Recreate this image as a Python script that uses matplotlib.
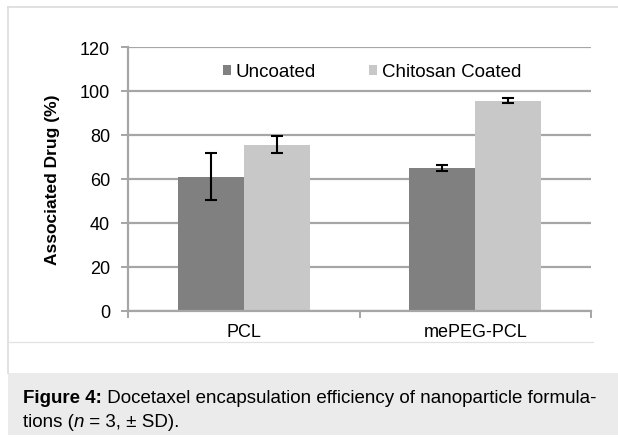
import matplotlib
matplotlib.use("Agg")
import matplotlib.pyplot as plt
from matplotlib.patches import Patch, Rectangle
from matplotlib.lines import Line2D
import numpy as np

plt.rcParams['font.family'] = ['Liberation Sans', 'DejaVu Sans']

categories = ["PCL", "mePEG-PCL"]
series_names = ["Uncoated", "Chitosan Coated"]
uncoated = [61.0, 65.0]
uncoated_sd = [10.6, 1.5]
coated = [75.6, 95.6]
coated_sd = [4.0, 1.0]
yticks = [0, 20, 40, 60, 80, 100, 120]
ylabel = "Associated Drug (%)"
colors = ["#808080", "#c8c8c8"]

W, H = 618, 439
fig = plt.figure(figsize=(W / 100, H / 100), dpi=100)

def fx(px):
    return px / W

def fy(py):
    return 1 - py / H

# frame lines and caption box
frame_col = "#dcdcdc"
fig.add_artist(Line2D([fx(8), fx(8)], [fy(8), fy(374)], color=frame_col, lw=1.2))
fig.add_artist(Line2D([fx(8), 1], [fy(8), fy(8)], color=frame_col, lw=1.2))
fig.add_artist(Line2D([fx(8), fx(593)], [fy(343), fy(343)], color="#e2e2e2", lw=0.9))
fig.add_artist(Rectangle((fx(8), fy(436)), 1 - fx(8), fy(374) - fy(436),
                         facecolor="#ebebeb", edgecolor="none"))

ax = fig.add_axes([fx(128), fy(312), fx(591) - fx(128), fy(48) - fy(312)])
x = np.arange(len(categories))
bw = 0.285
grid_col = "#a6a6a6"

ax.set_axisbelow(True)
ax.yaxis.grid(True, color=grid_col, lw=1.6)
ax.bar(x - bw / 2, uncoated, bw, color=colors[0], edgecolor="none",
       yerr=uncoated_sd, error_kw=dict(ecolor="black", elinewidth=1.5, capsize=4.3, capthick=1.5))
ax.bar(x + bw / 2, coated, bw, color=colors[1], edgecolor="none",
       yerr=coated_sd, error_kw=dict(ecolor="black", elinewidth=1.5, capsize=4.3, capthick=1.5))

ax.set_xlim(-0.5, len(categories) - 0.5)
ax.set_ylim(0, 120)
ax.set_yticks(yticks)
ax.set_yticklabels([str(v) for v in yticks], fontsize=13)
ax.set_xticks(x)
ax.set_xticklabels(categories, fontsize=13)
ax.set_xticks([-0.5, 0.5, 1.5], minor=True)
ax.tick_params(axis='x', which='major', length=0, pad=9)
ax.tick_params(axis='x', which='minor', length=5, direction='out', color=grid_col, width=1.4)
ax.tick_params(axis='y', length=5, direction='out', color=grid_col, width=1.4, pad=8)

for s in ["top", "right"]:
    ax.spines[s].set_visible(False)
for s in ["left", "bottom"]:
    ax.spines[s].set_color(grid_col)
    ax.spines[s].set_linewidth(1.6)

ax.set_ylabel(ylabel, fontsize=12.5, fontweight="bold", labelpad=14)

handles = [Patch(facecolor=c, edgecolor="none") for c in colors]
fig.legend(handles, series_names, loc="center", bbox_to_anchor=(fx(372), fy(73)),
           ncol=2, frameon=False, fontsize=13.5, handlelength=0.45, handleheight=0.45,
           handletextpad=0.25, columnspacing=2.8, borderpad=0, borderaxespad=0)

# caption with mixed styles
fig.canvas.draw()
renderer = fig.canvas.get_renderer()

def run(pieces, x0, y0):
    xpos = x0
    for txt, kw in pieces:
        t = fig.text(fx(xpos), fy(y0), txt, va="baseline", ha="left", fontsize=13.5, **kw)
        bb = t.get_window_extent(renderer=renderer)
        xpos += bb.width

run([("Figure 4:", dict(fontweight="bold")),
     (" Docetaxel encapsulation efficiency of nanoparticle formula-", {})], 23, 403)
run([("tions (", {}), ("n", dict(style="italic")), (" = 3, \u00b1 SD).", {})], 23, 427)

fig.savefig("out.png", dpi=100)
